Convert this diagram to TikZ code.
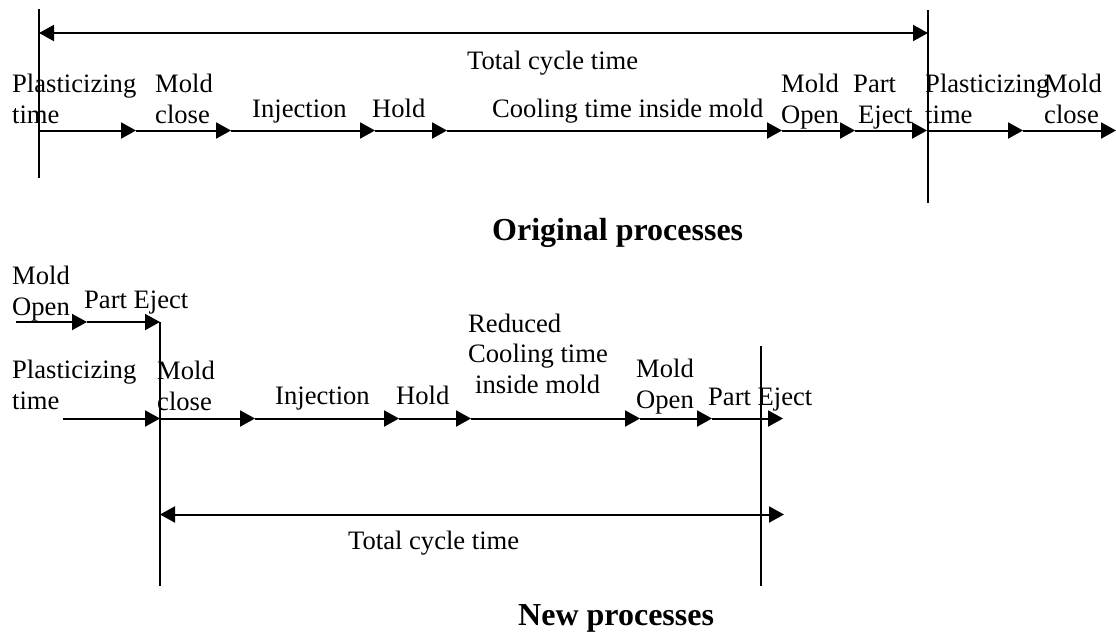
\documentclass[tikz,border=0pt]{standalone}
\usepackage{fontspec}
\setmainfont{Liberation Serif}
\usetikzlibrary{arrows.meta}
\newcommand\lbltwo[2]{\begin{tabular}[b]{@{}l@{}}#1\\#2\end{tabular}}
\newcommand\lblthree[3]{\begin{tabular}[b]{@{}l@{}}#1\\#2\\#3\end{tabular}}
\begin{document}
\begin{tikzpicture}[x=1pt,y=-1pt,
  font=\fontsize{26.6}{30.5}\selectfont,
  lbl/.style={inner sep=0pt,anchor=base west},
  ttl/.style={inner sep=0pt,anchor=base west,font=\fontsize{32}{38}\selectfont\bfseries},
  ln/.style={line width=2pt},
  arr/.style={line width=2pt,-{Triangle[length=15pt,width=16pt]}},
  dbl/.style={line width=2pt,{Triangle[length=15pt,width=16pt]}-{Triangle[length=15pt,width=16pt]}}]
\useasboundingbox[fill=white] (0,0) rectangle (1116,633);

% ---------------- Original processes ----------------
\coordinate (vl1) at (39,9);   \coordinate (vl2) at (39,178);
\coordinate (vr1) at (928,10); \coordinate (vr2) at (928,203);
\coordinate (d1) at (39,33);   \coordinate (d2) at (928,33);
\draw[ln] (vl1) -- (vl2);
\draw[ln] (vr1) -- (vr2);
\draw[dbl] (d1) -- (d2);

\coordinate (a0) at (39,130.5);
\coordinate (a1) at (136,130.5);
\coordinate (a2) at (231,130.5);
\coordinate (a3) at (375,130.5);
\coordinate (a4) at (447,130.5);
\coordinate (a5) at (782,130.5);
\coordinate (a6) at (855,130.5);
\coordinate (a7) at (927,130.5);
\coordinate (a8) at (1023,130.5);
\coordinate (a9) at (1116,130.5);
\foreach \i/\j in {0/1,1/2,2/3,3/4,4/5,5/6,6/7,7/8,8/9}
  \draw[arr] (a\i) -- (a\j);

\node[lbl] (tct1) at (467,69) {Total cycle time};
\node[lbl] (o1) at (12,123) {\lbltwo{Plasticizing}{time}};
\node[lbl] (o2) at (155,123) {\lbltwo{Mold}{close}};
\node[lbl] (o3) at (252,117) {Injection};
\node[lbl] (o4) at (372,117) {Hold};
\node[lbl] (o5) at (492,117) {Cooling time inside mold};
\node[lbl] (o6) at (781,123) {\lbltwo{Mold}{Open}};
\node[lbl] (o7) at (853,123) {\lbltwo{Part}{\hspace*{5pt}Eject}};
\node[lbl] (o8) at (925,123) {\lbltwo{Plasticizing}{time}};
\node[lbl] (o9) at (1044,123) {\lbltwo{Mold}{close}};
\node[ttl] (orig) at (492,240) {Original processes};

% ---------------- New processes ----------------
\coordinate (m0) at (16,322);
\coordinate (m1) at (87,322);
\coordinate (m2) at (160,322);
\coordinate (m3) at (160,586);
\draw[arr] (m0) -- (m1);
\draw[arr] (m1) -- (m2);
\draw[ln] (m2) -- (m3);

\coordinate (n1) at (761,346); \coordinate (n2) at (761,586);
\draw[ln] (n1) -- (n2);

\coordinate (b0) at (63,418.5);
\coordinate (b1) at (160,418.5);
\coordinate (b2) at (255,418.5);
\coordinate (b3) at (399,418.5);
\coordinate (b4) at (471,418.5);
\coordinate (b5) at (640,418.5);
\coordinate (b6) at (712,418.5);
\coordinate (b7) at (783,418.5);
\foreach \i/\j in {0/1,1/2,2/3,3/4,4/5,5/6,6/7}
  \draw[arr] (b\i) -- (b\j);

\coordinate (e1) at (160,514.5); \coordinate (e2) at (784,514.5);
\draw[dbl] (e1) -- (e2);

\node[lbl] (p1) at (12,315) {\lbltwo{Mold}{Open}};
\node[lbl] (p2) at (84,308) {Part Eject};
\node[lbl] (p3) at (12,409) {\lbltwo{Plasticizing}{time}};
\node[lbl] (p4) at (157,410) {\lbltwo{Mold}{close}};
\node[lbl] (p5) at (275,404) {Injection};
\node[lbl] (p6) at (396,404) {Hold};
\node[lbl] (p7) at (468,393) {\lblthree{Reduced}{Cooling time}{\hspace*{7pt}inside mold}};
\node[lbl] (p8) at (636,408) {\lbltwo{Mold}{Open}};
\node[lbl] (p9) at (708,405) {Part Eject};
\node[lbl] (tct2) at (348,549) {Total cycle time};
\node[ttl] (newp) at (518,625) {New processes};
\end{tikzpicture}
\end{document}
